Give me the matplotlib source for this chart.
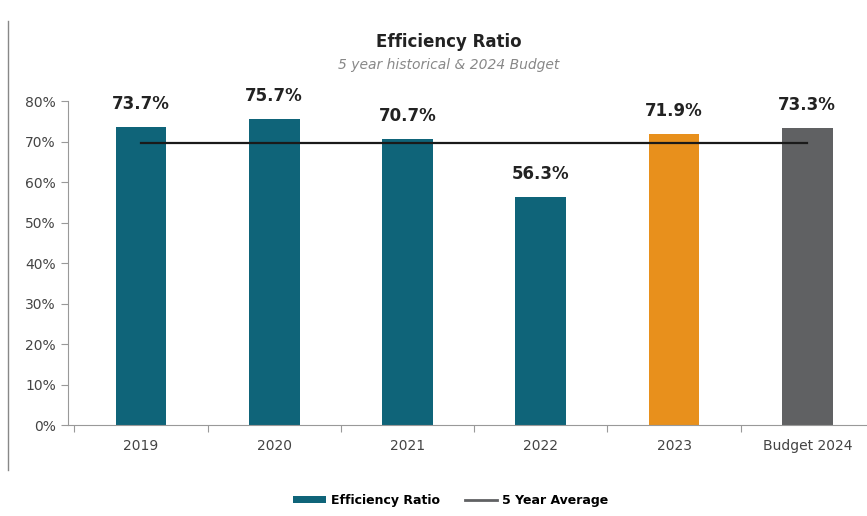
import numpy as np
import matplotlib.pyplot as plt
from matplotlib.patches import Patch
from matplotlib.lines import Line2D

categories = ['2019', '2020', '2021', '2022', '2023', 'Budget 2024']
ratios = [73.7, 75.7, 70.7, 56.3, 71.9, 73.3]
five_year_avg = 69.7
yticks = [0, 10, 20, 30, 40, 50, 60, 70, 80]

teal = '#0f6479'
orange = '#e8901c'
grey = '#606163'
bar_colors = [teal, teal, teal, teal, orange, grey]

fig = plt.figure(figsize=(8.67, 5.16), dpi=100)
ax = fig.add_axes([0.078, 0.176, 0.93, 0.628])

x = np.arange(len(categories))
ax.bar(x, ratios, width=0.38, color=bar_colors, zorder=2)
ax.plot([x[0], x[-1]], [five_year_avg, five_year_avg], color='#1a1a1a', lw=1.6, zorder=3)

for xi, v in zip(x, ratios):
    ax.annotate(f'{v}%', (xi, v), xytext=(0, 10), textcoords='offset points',
                ha='center', va='bottom', fontsize=12, fontweight='bold', color='#222222')

ax.set_xlim(-0.55, 5.45)
ax.set_ylim(0, 80)
ax.set_yticks(yticks)
ax.set_yticklabels([f'{t}%' for t in yticks], fontsize=10, color='#444444')

# category labels centred, ticks between categories
ax.set_xticks(np.arange(-0.5, len(categories), 1.0))
ax.set_xticklabels([])
ax.set_xticks(x, minor=True)
ax.set_xticklabels(categories, minor=True, fontsize=10, color='#444444')
ax.tick_params(axis='x', which='minor', length=0, pad=10)
ax.tick_params(axis='x', which='major', length=5, color='#999999')
ax.tick_params(axis='y', length=5, color='#999999')

for s in ['top', 'right']:
    ax.spines[s].set_visible(False)
ax.spines['left'].set_color('#999999')
ax.spines['bottom'].set_color('#999999')

fig.text(0.518, 0.918, 'Efficiency Ratio', ha='center', va='center',
         fontsize=12, fontweight='bold', color='#222222')
fig.text(0.518, 0.874, '5 year historical & 2024 Budget', ha='center', va='center',
         fontsize=10, fontstyle='italic', color='#888888')

handles = [Patch(facecolor=teal), Line2D([0], [0], color=grey, lw=2)]
fig.legend(handles, ['Efficiency Ratio', '5 Year Average'], loc='center',
           bbox_to_anchor=(0.52, 0.03), ncol=2, frameon=False,
           prop={'size': 9, 'weight': 'bold'},
           handlelength=2.6, handleheight=0.5, columnspacing=2.0, handletextpad=0.4)

# left border remnant
fig.add_artist(Line2D([0.009, 0.009], [0.09, 0.96], color='#888888', lw=1))

fig.savefig('out.png', dpi=100)
